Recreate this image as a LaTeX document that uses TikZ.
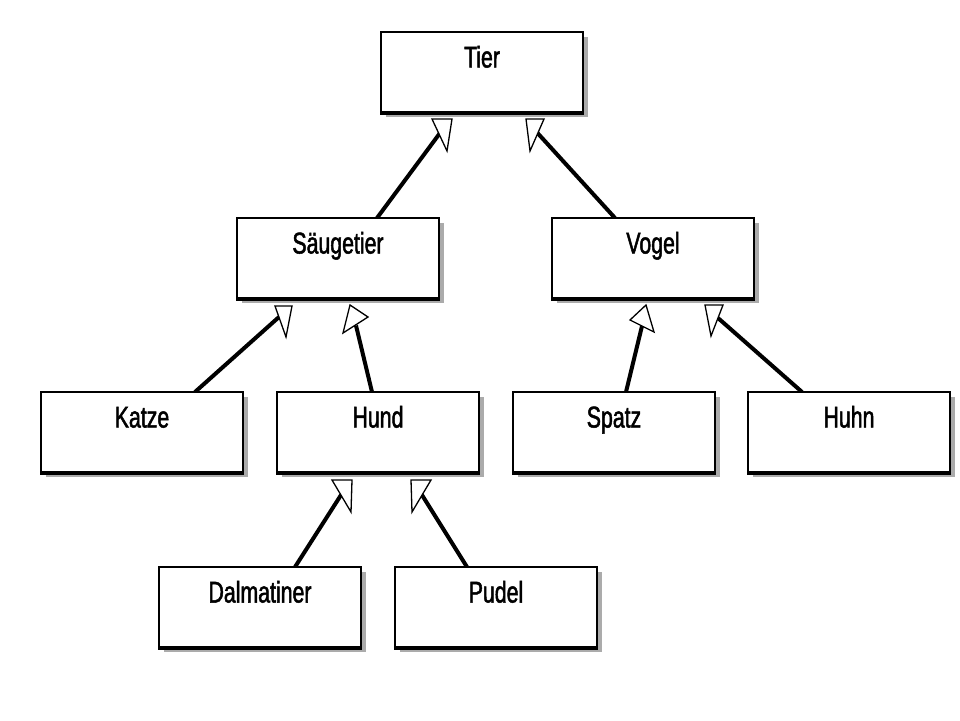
\documentclass[tikz,border=0pt]{standalone}
\usepackage{fontspec}
\newfontfamily\labfont[FakeStretch=0.71,FakeBold=1.6]{Liberation Sans}
\usetikzlibrary{shadows,backgrounds}
\tikzset{
  classbox/.style={rectangle, draw=black, line width=1.6pt, fill=white,
    minimum width=202pt, inner sep=0pt, text height=35.5pt, text depth=44.5pt,
    font=\labfont\fontsize{30}{36}\selectfont,
    drop shadow={shadow xshift=5pt, shadow yshift=-5pt, opacity=1, fill=black!33}},
  bottomline/.style={line width=4pt, black},
  inherit/.style={line width=4pt, black},
  hollowtip/.style={draw=black, fill=white, line width=1.3pt, line join=miter}
}
\begin{document}
\begin{tikzpicture}[x=1pt,y=-1pt]
\useasboundingbox (0,0) rectangle (960,720);
% classes
\node[classbox] (tier)  at (482,72)  {Tier};
\node[classbox] (saeug) at (338,258) {Säugetier};
\node[classbox] (vogel) at (653,258) {Vogel};
\node[classbox] (katze) at (142,432) {Katze};
\node[classbox] (hund)  at (378,432) {Hund};
\node[classbox] (spatz) at (614,432) {Spatz};
\node[classbox] (huhn)  at (849,432) {Huhn};
\node[classbox] (dalm)  at (260,607) {Dalmatiner};
\node[classbox] (pudel) at (496,607) {Pudel};
\foreach \n in {tier,saeug,vogel,katze,hund,spatz,huhn,dalm,pudel}
  \draw[bottomline] (\n.south west) -- (\n.south east);
% connector end points
\coordinate (a1) at (377,218); \coordinate (b1) at (440,133);
\coordinate (a2) at (615,218); \coordinate (b2) at (537.5,133);
\coordinate (a3) at (195,392); \coordinate (b3) at (279,317);
\coordinate (a4) at (372,392); \coordinate (b4) at (356,325.5);
\coordinate (a5) at (626,392); \coordinate (b5) at (642,326);
\coordinate (a6) at (802,392); \coordinate (b6) at (718,318);
\coordinate (a7) at (295,567); \coordinate (b7) at (341,495);
\coordinate (a8) at (467,567); \coordinate (b8) at (422,495);
\begin{scope}[on background layer]
  \fill[white] (0,0) rectangle (960,720);
  \draw[inherit] (a1) -- (b1);
  \draw[inherit] (a2) -- (b2);
  \draw[inherit] (a3) -- (b3);
  \draw[inherit] (a4) -- (b4);
  \draw[inherit] (a5) -- (b5);
  \draw[inherit] (a6) -- (b6);
  \draw[inherit] (a7) -- (b7);
  \draw[inherit] (a8) -- (b8);
  \draw[hollowtip] (432,119) -- (452,119) -- (447,151) -- cycle;
  \draw[hollowtip] (526,119) -- (544,119) -- (530,151) -- cycle;
  \draw[hollowtip] (275,306) -- (292,306) -- (286,337) -- cycle;
  \draw[hollowtip] (343,333) -- (350,305) -- (368,317) -- cycle;
  \draw[hollowtip] (630,320) -- (646,305) -- (654,332) -- cycle;
  \draw[hollowtip] (705,305) -- (723,305) -- (711,336) -- cycle;
  \draw[hollowtip] (332,480) -- (352,480) -- (351,512) -- cycle;
  \draw[hollowtip] (411,480) -- (431,480) -- (412,512) -- cycle;
\end{scope}
\end{tikzpicture}
\end{document}
